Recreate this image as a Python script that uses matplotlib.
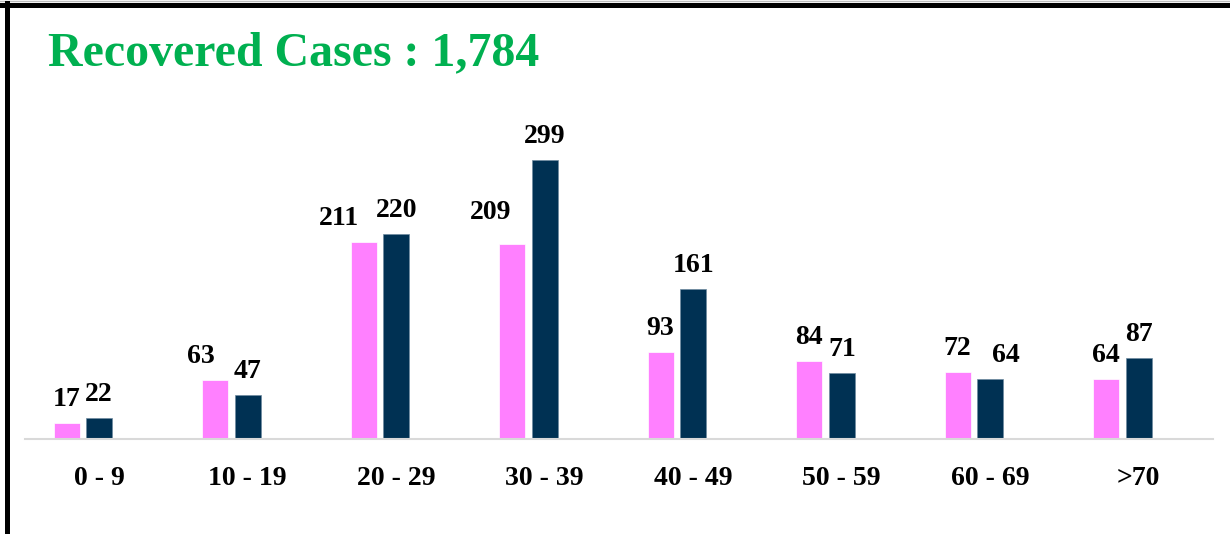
import matplotlib
matplotlib.use("Agg")
import matplotlib.pyplot as plt
import numpy as np
from matplotlib.lines import Line2D

# -----------------------------
# Data
# -----------------------------
age_groups = ["0 - 9", "10 - 19", "20 - 29", "30 - 39", "40 - 49", "50 - 59", "60 - 69", ">70"]
series_a = [17, 63, 211, 209, 93, 84, 72, 64]
series_b = [22, 47, 220, 299, 161, 71, 64, 87]
title_text = "Recovered Cases : 1,784"

# -----------------------------
# Style
# -----------------------------
PINK = "#FF80FF"
NAVY = "#003153"
GREEN = "#00B050"
FONT = "Liberation Serif"
PX = 0.72  # points per pixel at dpi=100

# manual label nudges (pixels) for a few labels, as in the original
nudge_a = {1: (-14, 0), 2: (-25, 0), 3: (-21, 8)}
nudge_b = {6: (16, 0)}

fig = plt.figure(figsize=(12.3, 5.34), dpi=100)
ax = fig.add_axes([25 / 1230, 95 / 534, 1188 / 1230, 308 / 534])

x = np.arange(len(age_groups))
w = 0.175
gap = 0.045

bars_a = ax.bar(x - w - gap, series_a, width=w, color=PINK, edgecolor="white", linewidth=0.5)
bars_b = ax.bar(x, series_b, width=w, color=NAVY, edgecolor="#6F8BA0", linewidth=0.5)

for bars, vals, nudges in ((bars_a, series_a, nudge_a), (bars_b, series_b, nudge_b)):
    for i, (bar, v) in enumerate(zip(bars, vals)):
        dx, dy = nudges.get(i, (0, 0))
        ax.annotate(
            str(v),
            (bar.get_x() + bar.get_width() / 2, v),
            xytext=(dx * PX, (17 + dy) * PX),
            textcoords="offset points",
            ha="center", va="baseline",
            fontsize=20, fontweight="bold", family=FONT, color="black",
        )

ax.set_xlim(-0.5, 7.5)
ax.set_ylim(0, 330)
ax.set_xticks(x)
ax.set_xticklabels(age_groups, fontsize=20, fontweight="bold", family=FONT)
ax.tick_params(axis="x", length=0, pad=19.5)
ax.set_yticks([])
for side in ("top", "right", "left"):
    ax.spines[side].set_visible(False)
ax.spines["bottom"].set_color("#D9D9D9")
ax.spines["bottom"].set_linewidth(1.5)

fig.text(48 / 1230, 1 - 65 / 534, title_text, fontsize=34.5, fontweight="bold",
         family=FONT, color=GREEN, ha="left", va="baseline")

# frame: thick black lines at top and left
fig.add_artist(Line2D([0, 1], [1 - 1 / 534, 1 - 1 / 534], color="#BBBBBB", lw=1, transform=fig.transFigure))
fig.add_artist(Line2D([0, 1], [1 - 5 / 534, 1 - 5 / 534], color="black", lw=5 * PX, transform=fig.transFigure))
fig.add_artist(Line2D([6.5 / 1230, 6.5 / 1230], [0, 1 - 3 / 534], color="black", lw=5 * PX, transform=fig.transFigure))

fig.savefig("out.png", dpi=100, facecolor="white")
